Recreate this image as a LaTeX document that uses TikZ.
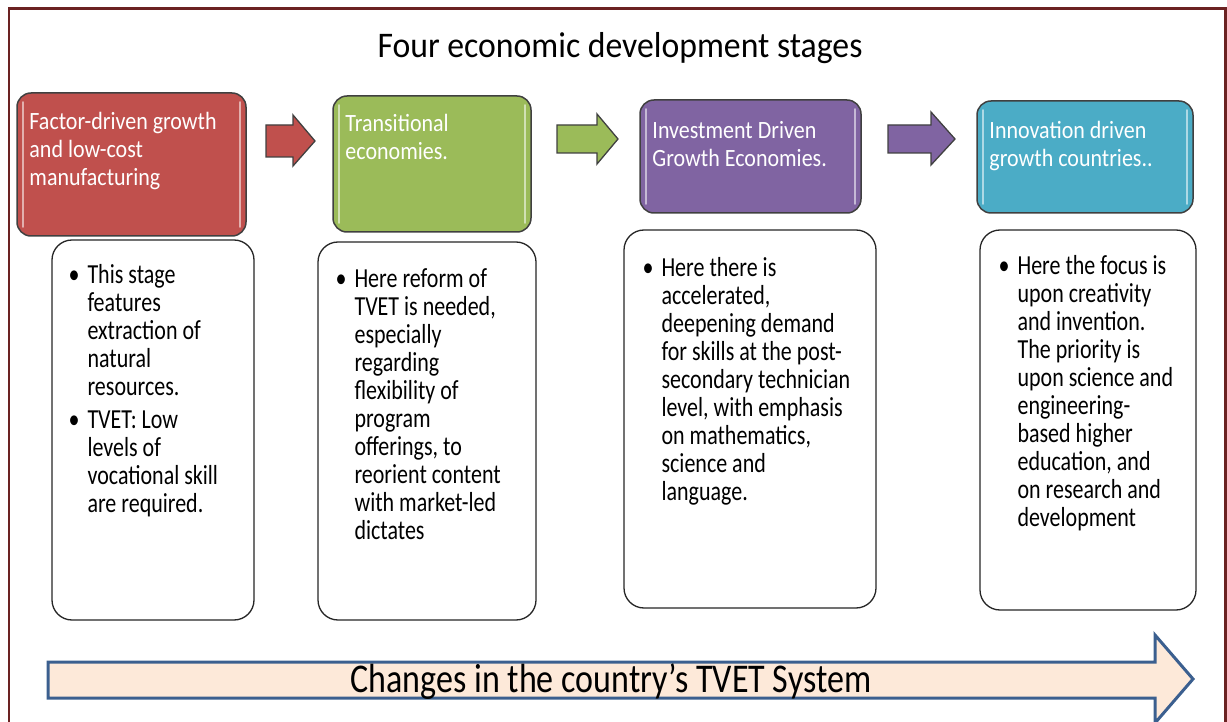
\documentclass[tikz,border=0pt]{standalone}
\usepackage{fontspec}
\setmainfont{Carlito}
\usepackage{xcolor}
\usepackage{graphicx}
\usetikzlibrary{positioning,calc}

\definecolor{frameRed}{HTML}{6B2222}
\definecolor{stageRed}{HTML}{C0504D}
\definecolor{stageGreen}{HTML}{9BBB59}
\definecolor{stagePurple}{HTML}{8064A2}
\definecolor{stageBlue}{HTML}{4BACC6}
\definecolor{tvetFill}{HTML}{FDE9D9}
\definecolor{tvetLine}{HTML}{3B5F8F}

% left-aligned lines, stretched upright by #1
\newcommand{\tallLines}[2]{\scalebox{1}[#1]{\begin{tabular}[t]{@{}l@{}}#2\end{tabular}}}
\newcommand{\bul}{\llap{\textbullet\hspace{8pt}}}

\begin{document}
\begin{tikzpicture}[x=1pt, y=-1pt,
    stage/.style={draw=black!75, line width=1.5pt, rounded corners=14pt, inner sep=0pt},
    info/.style={draw=black!85, line width=1.3pt, rounded corners=20pt, fill=white, inner sep=0pt},
    headtext/.style={anchor=base west, inner sep=0pt, text=white, font=\fontsize{22}{24.8}\selectfont},
    bodytext/.style={anchor=base west, inner sep=0pt, font=\fontsize{22}{22.4}\selectfont},
    gloss/.style={line width=2.2pt, white, opacity=0.55, line cap=round},
    stepArrow/.style={draw=black!75, line width=1.3pt, line join=miter}]
  \useasboundingbox (0,0) rectangle (1227,722);

  % outer frame
  \draw[frameRed, line width=2.5pt] (9,740) -- (9,8.5) -- (1225.5,8.5) -- (1225.5,740);

  \node[anchor=base, inner sep=0pt, font=\fontsize{33.7}{40}\selectfont] (title) at (620,58)
    {\scalebox{1}[1.07]{Four economic development stages}};

  % lower boxes
  \node[info, minimum width=202pt, minimum height=380pt] (w1) at (153,430) {};
  \node[info, minimum width=218pt, minimum height=378pt] (w2) at (427,431) {};
  \node[info, minimum width=252pt, minimum height=378pt] (w3) at (750,419) {};
  \node[info, minimum width=216pt, minimum height=380pt] (w4) at (1088,420) {};

  % stage boxes
  \node[stage, fill=stageRed, minimum width=229pt, minimum height=143pt] (s1) at (131.5,164.5) {};
  \node[stage, fill=stageGreen, minimum width=198pt, minimum height=136pt] (s2) at (432,164) {};
  \node[stage, fill=stagePurple, minimum width=221pt, minimum height=113pt] (s3) at (750.5,156.5) {};
  \node[stage, fill=stageBlue, minimum width=216pt, minimum height=112pt] (s4) at (1085,157) {};

  \foreach \s in {s1,s2,s3,s4} {
    \draw[gloss] ([xshift=7pt,yshift=-10pt]\s.north west) -- ([xshift=7pt,yshift=10pt]\s.south west);
    \draw[gloss] ([xshift=-7pt,yshift=-10pt]\s.north east) -- ([xshift=-7pt,yshift=10pt]\s.south east);
  }

  \node[headtext] (h1) at ([xshift=13pt,yshift=-37pt]s1.north west) {\tallLines{1.13}{Factor-driven growth\\and low-cost\\manufacturing}};
  \node[headtext] (h2) at ([xshift=13pt,yshift=-36pt]s2.north west) {\tallLines{1.13}{Transitional\\economies.}};
  \node[headtext] (h3) at ([xshift=13pt,yshift=-39pt]s3.north west) {\tallLines{1.13}{Investment Driven\\Growth Economies.}};
  \node[headtext] (h4) at ([xshift=13pt,yshift=-38pt]s4.north west) {\tallLines{1.13}{Innovation driven\\growth countries..}};

  % arrows between the stages
  \draw[stepArrow, fill=stageRed] (266,125) -- (293,125) -- (293,115) -- (315,141) -- (293,166) -- (293,157) -- (266,157) -- cycle;
  \draw[stepArrow, fill=stageGreen] (557,125) -- (597,125) -- (597,114) -- (618,139) -- (597,164) -- (597,153) -- (557,153) -- cycle;
  \draw[stepArrow, fill=stagePurple] (888,125) -- (931,125) -- (931,112) -- (955,139) -- (931,165) -- (931,153) -- (888,153) -- cycle;

  % bullet texts
  \node[bodytext] (b1) at ([xshift=36pt,yshift=-44pt]w1.north west)
    {\tallLines{1.25}{\bul This stage\\features\\extraction of\\natural\\resources.\\[4pt]
     \bul TVET: Low\\levels of\\vocational skill\\are required.}};
  \node[bodytext] (b2) at ([xshift=37pt,yshift=-46pt]w2.north west)
    {\tallLines{1.25}{\bul Here reform of\\TVET is needed,\\especially\\regarding\\flexibility of\\program\\offerings, to\\reorient content\\with market-led\\dictates}};
  \node[bodytext] (b3) at ([xshift=38pt,yshift=-47pt]w3.north west)
    {\tallLines{1.25}{\bul Here there is\\accelerated,\\deepening demand\\for skills at the post-\\secondary technician\\level, with emphasis\\on mathematics,\\science and\\language.}};
  \node[bodytext] (b4) at ([xshift=38pt,yshift=-45pt]w4.north west)
    {\tallLines{1.25}{\bul Here the focus is\\upon creativity\\and invention.\\The priority is\\upon science and\\engineering-\\based higher\\education, and\\on research and\\development}};

  % TVET system arrow
  \draw[tvetLine, fill=tvetFill, line width=3pt, line join=miter]
    (48,662) -- (1155,662) -- (1155,635) -- (1193,679) -- (1155,723) -- (1155,698) -- (48,698) -- cycle;
  \node[anchor=base, inner sep=0pt, font=\fontsize{34}{40}\selectfont] (tvet) at (611,692)
    {\scalebox{1}[1.2]{Changes in the country’s TVET System}};
\end{tikzpicture}
\end{document}
